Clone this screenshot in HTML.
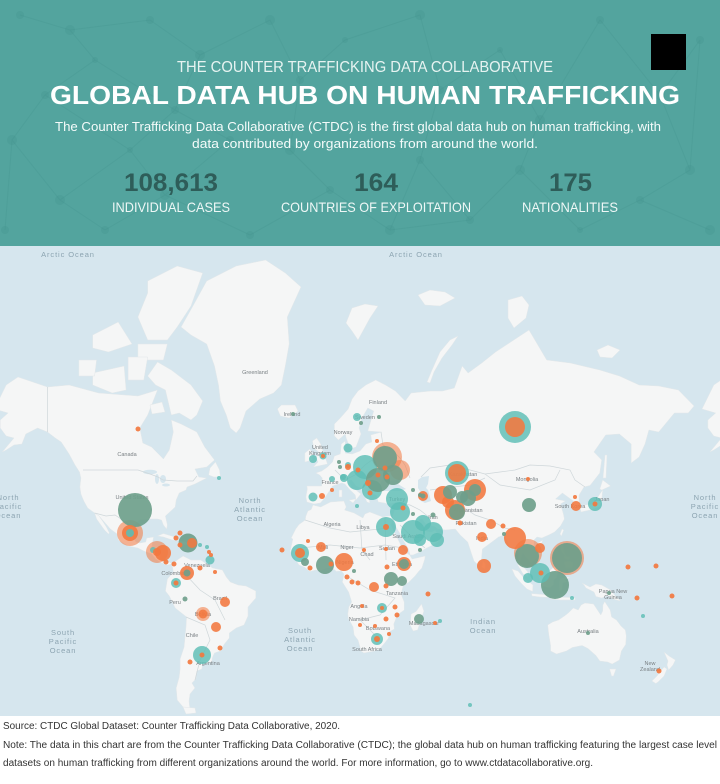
<!DOCTYPE html>
<html><head><meta charset="utf-8"><style>
html,body{margin:0;padding:0;background:#fff;}
svg{display:block;}
text{font-family:"Liberation Sans",sans-serif;}
</style></head><body>
<svg width="720" height="784" viewBox="0 0 720 784" xmlns="http://www.w3.org/2000/svg">
<!-- header -->
<rect x="0" y="0" width="720" height="246" fill="#53a49e"/>
<g stroke="#3f8f89" stroke-opacity="0.22" stroke-width="1" fill="none">
<path d="M20,15 L70,30 L95,60 L45,95 L12,140 L60,200 L105,230 M70,30 L150,20 L200,55 L175,110 L130,150 L60,200 M95,60 L175,110 M130,150 L165,195 L105,230 M165,195 L230,140 L175,110 M200,55 L270,20 L300,80 L345,40 L420,15 L440,90 L500,50 L540,120 L600,20 L660,95 L700,40 M300,80 L290,150 L230,140 M290,150 L330,190 L250,235 M330,190 L390,230 L420,160 L440,90 M420,160 L470,220 L520,170 L540,120 M520,170 L580,230 L640,200 L690,170 L660,95 M640,200 L710,230 M600,20 L540,120 M12,140 L5,230 M165,195 L250,235 M470,220 L390,230 M690,170 L700,40 M45,95 L130,150"/>
</g>
<g fill="#3f8f89" fill-opacity="0.22">
<circle cx="20" cy="15" r="4"/><circle cx="70" cy="30" r="5"/><circle cx="45" cy="95" r="4"/><circle cx="12" cy="140" r="5"/><circle cx="95" cy="60" r="3"/><circle cx="150" cy="20" r="4"/><circle cx="200" cy="55" r="5"/><circle cx="175" cy="110" r="4"/><circle cx="130" cy="150" r="3"/><circle cx="60" cy="200" r="5"/><circle cx="105" cy="230" r="4"/><circle cx="165" cy="195" r="5"/><circle cx="230" cy="140" r="4"/><circle cx="270" cy="20" r="5"/><circle cx="300" cy="80" r="4"/><circle cx="345" cy="40" r="3"/><circle cx="420" cy="15" r="5"/><circle cx="440" cy="90" r="4"/><circle cx="500" cy="50" r="3"/><circle cx="540" cy="120" r="5"/><circle cx="600" cy="20" r="4"/><circle cx="660" cy="95" r="5"/><circle cx="700" cy="40" r="4"/><circle cx="690" cy="170" r="5"/><circle cx="640" cy="200" r="4"/><circle cx="580" cy="230" r="3"/><circle cx="520" cy="170" r="5"/><circle cx="470" cy="220" r="4"/><circle cx="390" cy="230" r="5"/><circle cx="330" cy="190" r="4"/><circle cx="250" cy="235" r="4"/><circle cx="710" cy="230" r="5"/><circle cx="5" cy="230" r="4"/><circle cx="420" cy="160" r="4"/><circle cx="290" cy="150" r="5"/>
</g>
<rect x="651" y="34" width="35" height="36" fill="#000"/>
<text x="365" y="72" font-size="16" fill="#e6f3f1" text-anchor="middle" textLength="376" lengthAdjust="spacingAndGlyphs">THE COUNTER TRAFFICKING DATA COLLABORATIVE</text>
<text x="365" y="104" font-size="26" font-weight="bold" fill="#ffffff" text-anchor="middle" textLength="630" lengthAdjust="spacingAndGlyphs">GLOBAL DATA HUB ON HUMAN TRAFFICKING</text>
<text x="358" y="131" font-size="12.5" fill="#f4fbfa" text-anchor="middle" textLength="606" lengthAdjust="spacingAndGlyphs">The Counter Trafficking Data Collaborative (CTDC) is the first global data hub on human trafficking, with</text>
<text x="365" y="148" font-size="12.5" fill="#f4fbfa" text-anchor="middle" textLength="346" lengthAdjust="spacingAndGlyphs">data contributed by organizations from around the world.</text>
<g font-size="25" font-weight="bold" fill="#2e5d59" text-anchor="middle">
<text x="171" y="191" textLength="94" lengthAdjust="spacingAndGlyphs">108,613</text>
<text x="376" y="191" textLength="44" lengthAdjust="spacingAndGlyphs">164</text>
<text x="570.5" y="191" textLength="43" lengthAdjust="spacingAndGlyphs">175</text>
</g>
<g font-size="14" fill="#eef7f6" text-anchor="middle">
<text x="171" y="212" textLength="118" lengthAdjust="spacingAndGlyphs">INDIVIDUAL CASES</text>
<text x="376" y="212" textLength="190" lengthAdjust="spacingAndGlyphs">COUNTRIES OF EXPLOITATION</text>
<text x="570" y="212" textLength="96" lengthAdjust="spacingAndGlyphs">NATIONALITIES</text>
</g>

<!-- map -->
<svg x="0" y="246" width="720" height="470" viewBox="0 246 720 470">
<rect x="0" y="246" width="720" height="470" fill="#d6e6ee"/>
<g fill="#f5f6f6" stroke="#e3e8ea" stroke-width="0.5">
<path id="na" d="M-5.6,409 L6.2,385 L18,377 L47.5,387 L69.1,385 L98.6,393 L137.9,396 L157.5,390 L147.7,415 L139.8,428 L142.8,443 L151.6,447 L163.4,459 L169.3,450 L173.3,432 L171.3,420 L181.1,424 L196.8,432 L204.7,447 L214.5,460 L206.7,467 L194.9,469 L198.8,477 L206.7,478 L194.9,484 L187,487 L186,490 L179.2,493 L176.2,500 L175.2,507 L165.4,516 L167.4,525 L166.6,529 L163.4,525 L161.5,520 L157.5,519 L149.7,519 L139.8,520 L134,525 L133,536 L135.9,542 L139.8,543 L145.7,542 L146.7,538 L153.6,537 L151.6,548 L159.5,548 L160.5,559 L163.4,563 L169.3,562 L172.3,564 L167.4,565 L161.5,563 L155.6,559 L151.6,554 L143.8,551 L137.9,548 L128.1,546 L118.2,540 L117.2,534 L110.4,529 L103.5,521 L99,516 L94.6,513 L87.7,508 L83.8,501 L80.9,494 L79.9,487 L80.9,478 L79.5,472 L75,465 L69.1,454 L61.2,442 L55.3,438 L47.5,432 L37.6,428 L25.8,434 L21.9,444 L14,445 L6.2,450 L2.3,452 L14,438 L6.2,436 L0.3,428 L0.3,420 L8.1,413 Z"/>
<use href="#na" transform="translate(707.6,0)"/>
<path d="M99,516 L94.6,513 L96.6,519 L100.5,524.5 L104.5,530 L108.4,534 L109.4,533 L106.4,527 L102.5,521 Z"/>
<!-- arctic islands -->
<path d="M171.3,370 L191,385 L202.7,401 L196.8,415 L191,420 L179.2,413 L171.3,415 L165.4,390 L155.6,385 L147.7,376 L157.5,362 Z"/>
<path d="M147.7,281 L177.2,266 L202.7,273 L191,306 L177.2,327 L167.4,340 L147.7,340 L137.9,317 L147.7,293 Z"/>
<path d="M137.9,344 L167.4,344 L163.4,360 L137.9,360 Z"/>
<path d="M92.7,373 L124.1,366 L126.1,390 L112.3,393 L92.7,385 Z"/>
<path d="M78.9,360 L96.6,360 L94.6,376 L78.9,376 Z"/>
<path d="M92.7,335 L118.2,322 L132,344 L108.4,352 L92.7,348 Z"/>
<path d="M128.1,357 L147.7,357 L143.8,380 L128.1,380 Z"/>
<path d="M150,405 L162,402 L165,412 L152,414 Z"/>
<!-- Greenland -->
<path d="M181.1,327 L192.9,306 L206.7,281 L236.2,266 L265.6,260 L285.3,273 L301,287 L287.3,317 L289.2,344 L285.3,366 L281.4,385 L273.5,393 L259.7,399 L246,411 L240.1,428 L236.2,433 L230.3,428 L226.3,415 L220.4,401 L218.5,385 L214.5,366 L206.7,344 L191,335 Z"/>
<!-- Iceland -->
<path d="M277.4,409 L281.4,405 L295.1,405 L298,411 L289.2,418 L280.4,416 Z"/>
<!-- Newfoundland -->
<path d="M208.6,475 L214,477 L220.4,477 L219.5,470 L215.5,462 L210,468 Z"/>
<!-- Caribbean -->
<path d="M157.5,536 L163.4,533.5 L173.3,536.5 L178.7,540 L172.3,540 L163.4,537 Z"/>
<path d="M178.2,540 L190.2,543 L185,545 L178.2,543.5 Z"/>
<!-- South America -->
<path d="M172.3,564 L177.2,560 L183.1,556 L191,560 L200.8,560 L206.7,564 L212.6,568 L222.4,570 L226.3,577 L230.3,582 L238.1,585 L246,586 L255.8,591 L255.8,598 L248,607 L248,616 L244,625 L236.2,628 L229.3,633 L229.3,638 L224.4,644 L220.4,651 L214.5,653 L212.6,657 L211.6,662 L202.7,664 L201.8,669 L196.8,671 L195.8,679 L191.9,683 L194.9,688 L190,694 L189,701 L190,710 L183.1,707 L177.2,700 L176.2,688 L179.2,677 L180.1,669 L180.1,659 L184.1,647 L185,637 L186,627 L186.6,617 L175.2,608 L169.3,596 L165.4,591 L167.4,579 L173.3,572 L172.3,566 Z"/>
<path d="M183,707 L195,708 L196,713 L186,714 Z"/>
<!-- Eurasia -->
<path d="M306.9,502 L305.9,497 L307.3,489 L306.9,486 L321.7,486 L322.2,478 L319.7,475 L315.8,473 L321.7,471 L327.5,467 L332.5,462 L334.4,456 L340.3,454 L341.3,444 L345.2,441 L345.2,453 L352.1,454 L360,451 L365.9,444 L371.8,442 L370.8,435 L381.6,432 L367.8,431 L373.7,411 L367.8,408 L361.9,418 L359,428 L361,434 L356,447 L350.2,449 L349.2,446 L346.2,438 L345.2,434 L338.4,440 L334.4,436 L334.4,424 L340.3,418 L348.2,409 L352.1,399 L358,391 L365.9,385 L375.7,380 L385.5,385 L395.4,391 L405.2,401 L411.1,393 L430.7,391 L442.5,391 L454.3,388 L462.2,366 L468.1,373 L481.8,363 L495.6,352 L529,330 L546.7,360 L570.3,363 L599.8,370 L619.4,376 L639.1,385 L658.7,386 L678.4,390 L694.1,406 L688.2,413 L674.4,413 L658.7,432 L648.9,430 L645,444 L639.1,457 L631.2,463 L631.2,444 L619.4,434 L605.7,435 L593.9,452 L601.7,460 L599.8,473 L590,485.5 L584,487 L579.1,495 L579.1,506 L572.9,508 L573.3,501 L562.4,493 L555.5,499 L565.4,501 L560.5,504 L563.4,514 L564.4,519 L560.5,526 L554.6,532 L548.7,535 L541.8,538 L536.9,537 L534,540 L534,546 L538.6,550 L538.9,556 L534.5,560 L531,563 L522.7,553 L519.6,562 L527.8,572 L528,577 L523.1,574 L517.8,565 L518.2,554 L516.6,547 L509.9,548 L504.5,535 L498.5,537 L494.6,540 L482.4,549 L481.4,560 L477.9,565 L474,561 L471.6,554 L467.7,542 L460.2,535 L455.3,529 L445.5,530 L437.2,529 L435.3,527 L425.8,524 L421.9,519 L419,520 L423.1,526 L425.8,531 L431.7,532 L435.3,530 L436.2,532 L442.1,535 L438.2,542 L432.7,545 L426.8,548 L419.9,552 L413,555 L410.1,555 L408.5,549 L406.6,546 L401.3,537 L400.3,534 L393.4,523 L393.2,520 L392.4,516 L394.4,510 L395.4,503 L387.5,504 L384.5,503 L378.3,502 L376.7,497 L376.3,495 L370.8,494 L369.4,500 L369.8,503 L366.9,502 L363.9,495 L362.9,489 L356,486 L351.5,480 L348.8,481 L352.1,488 L356,490 L360.8,494 L356,500 L355.3,495 L349.2,489 L344.9,484 L341.7,483 L332.5,486 L330.7,489 L324,499 L320.3,503 L314,504 Z"/>
<!-- UK / Ireland -->
<path d="M313.4,467 L327.5,464 L324.6,455.5 L320.7,444 L316.7,438 L312.4,441 L313.8,448 L318.7,452 L316,458 L318,462 Z"/>
<path d="M304.9,462 L312.8,460 L312.8,454 L309.9,449 L304.9,453 Z"/>
<!-- Med islands -->
<path d="M349,500 L356,499 L353,503 Z"/>
<path d="M339,490 L342,490 L342,497 L339,497 Z"/>
<!-- Svalbard, NZ, Franz Josef, Severnaya, NSI -->
<path d="M346,323 L352,308 L365,304 L378,306 L370,318 L358,340 L352,331 Z"/>
<path d="M427,382 L432,370 L440,352 L450,340 L458,336 L452,345 L442,358 L434,372 L430,383 Z"/>
<path d="M418,295 L430,290 L445,292 L455,298 L440,306 L425,305 Z"/>
<path d="M508,300 L522,296 L529,305 L526,318 L514,328 L508,318 Z"/>
<path d="M597,350 L608,345 L620,350 L612,358 L600,357 Z"/>
<!-- Africa -->
<path d="M313,505 L320.7,507 L330.5,502 L343.9,501 L346.2,507 L344.6,510 L354.1,513 L362.9,518 L364.9,514 L369.8,512 L382.6,517 L388.1,516 L391.8,516 L393.2,520 L390.9,525 L394.4,532 L400.3,544 L402.6,549 L406.4,553 L409.7,555 L412.1,559 L425.2,556 L424.8,559 L421.9,568 L419,571 L415,576 L409.1,582 L403.2,586 L401.3,593 L401.8,596 L404.2,602 L404.2,610 L397.3,615 L393.8,624 L394.4,629 L389.1,632 L388.5,638 L385.5,642 L379.6,649 L374.7,651 L363.9,653 L360.8,651 L360,647 L358,640 L354.1,635 L353.1,627 L348.2,618 L347.8,614 L348.8,607 L351.7,602 L350.5,598 L348.6,592 L342.3,582 L343.3,578 L343.9,574 L341.3,571 L336.4,571.5 L332.5,568 L327.5,568 L320.7,570.5 L315.8,570 L309.9,571.5 L304.9,567.5 L299,565 L295.1,559 L291.6,554 L290.2,551 L292.2,542 L292.8,539 L291.2,538 L295.7,529 L299,524.5 L305.3,520 L305.7,516.5 L307.9,511 L311.2,509.5 Z"/>
<path d="M421.5,604 L423.9,611 L417.6,630 L413.1,631 L410.1,625 L411.1,614 L416,611.5 Z"/>
<!-- East Asia islands -->
<path d="M581,512 L590,510 L599.8,507 L601.7,500 L602.7,490 L599.8,494 L596,500 L591.9,504 L584,505 L580,508 Z"/>
<path d="M599.8,489 L602.7,480 L610.6,486 L601.7,490 Z"/>
<path d="M603,478 L605,455 L607,455 L606,478 Z"/>
<path d="M561.4,536 L563.8,530 L562,529 L560,534 Z"/>
<path d="M538,543 L542.8,540 L541.5,544 L538.5,545 Z"/>
<path d="M481.8,567 L483,561 L485.5,564 L484.8,569 Z"/>
<path d="M560.5,545 L563,543 L564.4,553 L566,556 L562.5,553 L560.5,549 Z"/>
<path d="M564,562 L570,561 L573,563 L572,568 L566,568 Z"/>
<path d="M564,556 L570,557 L569,560 L565,559 Z"/>
<path d="M511.9,569 L518,571 L524,578 L533,585 L532.6,591.5 L527,589 L521,583 L515,576 Z"/>
<path d="M531.4,593.5 L549.6,595 L549.6,597.5 L540,597 L532,596 Z"/>
<path d="M551,597 L570,597.5 L575,598 L575,600 L560,600 L551,599 Z"/>
<path d="M538.9,577 L541.8,586 L549.6,588 L553.5,585 L554,580 L556.5,578 L558.5,570 L554.6,566 L551.6,569 L546.7,574 L541,575 Z"/>
<path d="M559.5,591 L559,584 L560,578 L570,577 L565,580 L566.9,582 L563,583 L562,590 Z"/>
<path d="M582,583 L590,587 L595.9,584 L601.7,585 L610.6,590 L615.5,596 L620.4,601 L613,599 L607.6,595.5 L601.7,598 L595.9,596.5 L594,592 L586,588 L584,585 Z"/>
<!-- Australia -->
<path d="M547.7,625 L548.7,634 L550.6,645.5 L550.6,651 L556.5,654 L566.4,651 L572.3,647.5 L582.1,645.5 L588,648.5 L595.9,655.5 L599.8,661 L607.6,662 L612.2,664 L619.4,660 L621.4,651 L625.7,644.5 L626.3,636 L625.3,630 L621,626 L616.5,620 L611.6,617 L610.2,610 L604.7,601.5 L602.9,605 L602.7,611 L600.8,615 L593.5,604 L585,603 L581.1,605 L578.2,610 L573.3,608 L568.3,613 L564.4,616 L558.5,620 L552.6,622 Z"/>
<path d="M609.6,669 L616,669 L613.5,676 L611.6,676 Z"/>
<path d="M664,652 L669,656 L675.4,660 L673,665 L668.6,670 L667,665 L668,661 Z"/>
<path d="M664.2,667 L667,669 L664,676 L658,682 L655.8,683.5 L651.9,681 L657,676 L660.7,671 Z"/>
</g>
<!-- inland water -->
<g fill="#d6e6ee">
<path d="M379.6,490 L381,482 L385,477 L390,481 L396,480 L402,476 L398,484 L406,489 L400,491 L390,491 L382,491 Z"/>
<path d="M418,480 L422,477 L429,476 L428,484 L426,488 L428,490 L431,501 L425,503 L421,501 L422,494 L418,488 Z"/>
<ellipse cx="150" cy="472" rx="7" ry="2.3"/>
<ellipse cx="157" cy="479" rx="2" ry="5"/>
<ellipse cx="163" cy="479" rx="3" ry="4"/>
<ellipse cx="166" cy="485" rx="4" ry="1.5"/>
</g>
<!-- borders -->
<g fill="none" stroke="#cfd7da" stroke-width="0.7">
<path d="M83,470 L138,470 L150,474 L158,477 L163,480 L177,481 L193,481 L197,476"/>
<path d="M94.6,513 L106,516 L115,515 L124,521 L133.5,527"/>
<path d="M47.5,432 L47.5,387"/>
<path d="M421,477 L430,468 L450,465 L470,470 L485,474 L500,472 L515,470 L530,465 L550,466 L570,470 L575,480 L585,487"/>
<path d="M485,474 L500,485 L530,490 L555,480 L560,470"/>
<path d="M430,490 L445,488 L470,485 L485,478"/>
<path d="M381,432 L383,445 L392,450 L400,458 L405,465 L410,478"/>
<path d="M460,505 L475,515 L490,520 L505,528 L515,530"/>
<path d="M305,520 L330,528 L350,532 L370,530 L390,528"/>
<path d="M300,548 L330,545 L360,548 L385,545 L403,548"/>
<path d="M345,575 L370,590 L395,598 L380,615 L360,620 L375,635"/>
<path d="M360,520 L362,550 L370,560 M385,518 L386,560"/>
<path d="M395,503 L410,505 L420,510 L430,518"/>
<path d="M400,525 L415,540 L425,548"/>
<path d="M186,575 L200,590 L215,600 L225,620 M186,617 L205,625 L210,640 L200,660 L195,680"/>
<path d="M335,470 L345,480 L355,475 L365,465 L372,460 L380,470"/>
</g>
<!-- ocean labels -->
<g font-size="7.5" fill="#8ca4b1" letter-spacing="0.9" text-anchor="middle">
<text x="68" y="257">Arctic Ocean</text>
<text x="416" y="257">Arctic Ocean</text>
<text x="8" y="500">North</text><text x="8" y="509">Pacific</text><text x="8" y="518">Ocean</text>
<text x="250" y="503">North</text><text x="250" y="512">Atlantic</text><text x="250" y="521">Ocean</text>
<text x="705" y="500">North</text><text x="705" y="509">Pacific</text><text x="705" y="518">Ocean</text>
<text x="63" y="635">South</text><text x="63" y="644">Pacific</text><text x="63" y="653">Ocean</text>
<text x="300" y="633">South</text><text x="300" y="642">Atlantic</text><text x="300" y="651">Ocean</text>
<text x="483" y="624">Indian</text><text x="483" y="633">Ocean</text>
</g>
<!-- country labels -->
<g font-size="5.5" fill="#7a8084" text-anchor="middle">
<text x="255" y="374">Greenland</text>
<text x="127" y="456">Canada</text>
<text x="132" y="499">United States</text>
<text x="292" y="416">Ireland</text>
<text x="378" y="404">Finland</text>
<text x="365" y="419">Sweden</text>
<text x="343" y="434">Norway</text>
<text x="320" y="449">United</text><text x="320" y="455">Kingdom</text>
<text x="330" y="484">France</text>
<text x="332" y="526">Algeria</text>
<text x="363" y="529">Libya</text>
<text x="323" y="549">Mali</text>
<text x="347" y="549">Niger</text>
<text x="367" y="556">Chad</text>
<text x="387" y="550">Sudan</text>
<text x="402" y="566">Ethiopia</text>
<text x="345" y="564">Nigeria</text>
<text x="397" y="595">Tanzania</text>
<text x="359" y="608">Angola</text>
<text x="359" y="621">Namibia</text>
<text x="378" y="630">Botswana</text>
<text x="424" y="625">Madagascar</text>
<text x="367" y="651">South Africa</text>
<text x="397" y="501">Turkey</text>
<text x="433" y="519">Iran</text>
<text x="408" y="538">Saudi Arabia</text>
<text x="463" y="476">Kazakhstan</text>
<text x="468" y="512">Afghanistan</text>
<text x="466" y="525">Pakistan</text>
<text x="482" y="540">India</text>
<text x="527" y="481">Mongolia</text>
<text x="602" y="501">Japan</text>
<text x="570" y="508">South Korea</text>
<text x="613" y="593">Papua New</text><text x="613" y="599">Guinea</text>
<text x="588" y="633">Australia</text>
<text x="650" y="665">New</text><text x="650" y="671">Zealand</text>
<text x="197" y="567">Venezuela</text>
<text x="173" y="575">Colombia</text>
<text x="175" y="604">Peru</text>
<text x="220" y="600">Brazil</text>
<text x="203" y="616">Bolivia</text>
<text x="192" y="637">Chile</text>
<text x="208" y="665">Argentina</text>
</g>
<!-- bubbles -->
<g>
<g fill="#f2783f" fill-opacity="0.55">
<circle cx="130" cy="533" r="13"/>
<circle cx="157" cy="552" r="11"/>
<circle cx="203" cy="614" r="7"/>
<circle cx="387" cy="457" r="15"/>
<circle cx="400" cy="470" r="10"/>
<circle cx="567" cy="558" r="17"/>
<circle cx="528" cy="553" r="14"/>
</g>
<g fill="#6e9f8b" fill-opacity="0.92">
<circle cx="135" cy="510" r="17"/>
<circle cx="188" cy="543" r="9.5"/>
<circle cx="567" cy="558" r="15"/>
<circle cx="555" cy="585" r="14"/>
<circle cx="527" cy="556" r="12"/>
<circle cx="529" cy="505" r="7"/>
</g>
<g fill="#5dbdb4" fill-opacity="0.82">
<circle cx="515" cy="427" r="16"/>
<circle cx="457" cy="473" r="12"/>
<circle cx="365" cy="467" r="12"/>
<circle cx="357" cy="480" r="10"/>
<circle cx="372" cy="490" r="10"/>
<circle cx="397" cy="499" r="11"/>
<circle cx="400" cy="512" r="10"/>
<circle cx="386" cy="527" r="10"/>
<circle cx="413" cy="532" r="12"/>
<circle cx="423" cy="523" r="8"/>
<circle cx="433" cy="532" r="10"/>
<circle cx="437" cy="540" r="7"/>
<circle cx="420" cy="540" r="6"/>
<circle cx="540" cy="573" r="10"/>
<circle cx="528" cy="578" r="5"/>
<circle cx="595" cy="504" r="7"/>
<circle cx="202" cy="655" r="9"/>
<circle cx="300" cy="553" r="9"/>
<circle cx="176" cy="583" r="5"/>
<circle cx="210" cy="560" r="4.5"/>
<circle cx="357" cy="417" r="4"/>
<circle cx="348" cy="448" r="4.5"/>
<circle cx="323" cy="456" r="3.5"/>
<circle cx="313" cy="459" r="4"/>
<circle cx="348" cy="465" r="3"/>
<circle cx="344" cy="478" r="4"/>
<circle cx="332" cy="479" r="3"/>
<circle cx="343" cy="477" r="3"/>
<circle cx="313" cy="497" r="4.5"/>
<circle cx="357" cy="506" r="2"/>
<circle cx="382" cy="608" r="5"/>
<circle cx="377" cy="639" r="6"/>
<circle cx="440" cy="621" r="2"/>
<circle cx="219" cy="478" r="2"/>
<circle cx="200" cy="545" r="2"/>
<circle cx="207" cy="547" r="2"/>
<circle cx="153" cy="550" r="3"/>
<circle cx="572" cy="598" r="2"/>
<circle cx="643" cy="616" r="2"/>
<circle cx="470" cy="705" r="2"/>
</g>
<g fill="#f2783f" fill-opacity="0.88">
<circle cx="515" cy="427" r="10"/>
<circle cx="457" cy="473" r="9"/>
<circle cx="443" cy="495" r="9"/>
<circle cx="475" cy="490" r="11"/>
<circle cx="455" cy="510" r="10"/>
<circle cx="448" cy="502" r="6"/>
<circle cx="515" cy="538" r="11"/>
<circle cx="540" cy="548" r="5"/>
<circle cx="130" cy="533" r="8"/>
<circle cx="163" cy="553" r="8"/>
<circle cx="157" cy="552" r="4"/>
<circle cx="187" cy="573" r="7"/>
<circle cx="203" cy="614" r="4.5"/>
<circle cx="344" cy="562" r="9"/>
<circle cx="404" cy="564" r="7"/>
<circle cx="484" cy="566" r="7"/>
<circle cx="491" cy="524" r="5"/>
<circle cx="482" cy="537" r="5"/>
<circle cx="576" cy="506" r="5"/>
<circle cx="225" cy="602" r="5"/>
<circle cx="216" cy="627" r="5"/>
<circle cx="321" cy="547" r="5"/>
<circle cx="374" cy="587" r="5"/>
<circle cx="403" cy="550" r="5"/>
<circle cx="423" cy="496" r="5"/>
<circle cx="192" cy="543" r="5"/>
</g>
<g fill="#6e9f8b" fill-opacity="0.9">
<circle cx="385" cy="458" r="12"/>
<circle cx="393" cy="475" r="10"/>
<circle cx="378" cy="480" r="12"/>
<circle cx="450" cy="492" r="7"/>
<circle cx="468" cy="498" r="8"/>
<circle cx="462" cy="497" r="6"/>
<circle cx="457" cy="512" r="8"/>
<circle cx="475" cy="490" r="6"/>
<circle cx="325" cy="565" r="9"/>
<circle cx="305" cy="562" r="4"/>
<circle cx="404" cy="564" r="5"/>
<circle cx="391" cy="579" r="7"/>
<circle cx="402" cy="581" r="5"/>
<circle cx="419" cy="619" r="5"/>
<circle cx="187" cy="573" r="3.5"/>
<circle cx="423" cy="496" r="2.5"/>
<circle cx="293" cy="414" r="2"/>
<circle cx="361" cy="423" r="2"/>
<circle cx="379" cy="417" r="2"/>
<circle cx="339" cy="462" r="2"/>
<circle cx="340" cy="467" r="2"/>
<circle cx="413" cy="490" r="2"/>
<circle cx="420" cy="495" r="2"/>
<circle cx="433" cy="515" r="2.5"/>
<circle cx="413" cy="514" r="2"/>
<circle cx="504" cy="534" r="2"/>
<circle cx="354" cy="571" r="2"/>
<circle cx="420" cy="550" r="2"/>
<circle cx="185" cy="599" r="2.5"/>
<circle cx="609" cy="593" r="2"/>
<circle cx="588" cy="633" r="2"/>
</g>
<g fill="#5dbdb4" fill-opacity="0.9">
<circle cx="130" cy="533" r="4"/>
</g>
<g fill="#f2783f" fill-opacity="0.92">
<circle cx="138" cy="429" r="2.5"/>
<circle cx="176" cy="538" r="2.5"/><circle cx="180" cy="533" r="2.5"/><circle cx="180" cy="545" r="2.5"/>
<circle cx="209" cy="552" r="2"/><circle cx="211" cy="555" r="2"/>
<circle cx="166" cy="562" r="2.5"/><circle cx="174" cy="564" r="2.5"/>
<circle cx="200" cy="568" r="2.5"/><circle cx="215" cy="572" r="2"/>
<circle cx="176" cy="583" r="2.5"/>
<circle cx="220" cy="648" r="2.5"/>
<circle cx="202" cy="655" r="2.5"/>
<circle cx="190" cy="662" r="2.5"/>
<circle cx="377" cy="441" r="2"/>
<circle cx="323" cy="456" r="2"/>
<circle cx="348" cy="467" r="3"/>
<circle cx="385" cy="468" r="2.5"/><circle cx="368" cy="483" r="3"/><circle cx="358" cy="470" r="2.5"/><circle cx="370" cy="493" r="2.5"/><circle cx="387" cy="477" r="2.5"/><circle cx="378" cy="475" r="2.5"/>
<circle cx="322" cy="496" r="3"/>
<circle cx="332" cy="490" r="2"/>
<circle cx="403" cy="508" r="2.5"/>
<circle cx="386" cy="527" r="3"/>
<circle cx="460" cy="523" r="2.5"/>
<circle cx="503" cy="526" r="2.5"/>
<circle cx="300" cy="553" r="5"/>
<circle cx="282" cy="550" r="2.5"/>
<circle cx="310" cy="568" r="2.5"/>
<circle cx="308" cy="541" r="2"/>
<circle cx="331" cy="564" r="2.5"/>
<circle cx="347" cy="577" r="2.5"/><circle cx="352" cy="582" r="2.5"/><circle cx="358" cy="583" r="2.5"/>
<circle cx="364" cy="550" r="2"/>
<circle cx="387" cy="567" r="2.5"/>
<circle cx="386" cy="549" r="2"/>
<circle cx="386" cy="586" r="2.5"/>
<circle cx="428" cy="594" r="2.5"/>
<circle cx="382" cy="608" r="2"/>
<circle cx="395" cy="607" r="2.5"/><circle cx="397" cy="615" r="2.5"/><circle cx="386" cy="619" r="2.5"/>
<circle cx="435" cy="623" r="2"/>
<circle cx="377" cy="639" r="3"/>
<circle cx="360" cy="625" r="2"/><circle cx="375" cy="626" r="2"/><circle cx="389" cy="634" r="2"/>
<circle cx="362" cy="606" r="2"/>
<circle cx="528" cy="479" r="2"/>
<circle cx="575" cy="497" r="2"/>
<circle cx="595" cy="504" r="2.5"/>
<circle cx="541" cy="573" r="2.5"/>
<circle cx="628" cy="567" r="2.5"/><circle cx="656" cy="566" r="2.5"/><circle cx="637" cy="598" r="2.5"/><circle cx="672" cy="596" r="2.5"/>
<circle cx="659" cy="671" r="2.5"/>
</g>
</g>
</svg>

<!-- footer -->
<rect x="0" y="716" width="720" height="68" fill="#ffffff"/>
<g font-size="10" fill="#333">
<text x="3" y="729" textLength="337" lengthAdjust="spacingAndGlyphs">Source: CTDC Global Dataset: Counter Trafficking Data Collaborative, 2020.</text>
<text x="3" y="748" textLength="714" lengthAdjust="spacingAndGlyphs">Note: The data in this chart are from the Counter Trafficking Data Collaborative (CTDC); the global data hub on human trafficking featuring the largest case level</text>
<text x="3" y="766" textLength="590" lengthAdjust="spacingAndGlyphs">datasets on human trafficking from different organizations around the world. For more information, go to www.ctdatacollaborative.org.</text>
</g>
</svg>
</body></html>
